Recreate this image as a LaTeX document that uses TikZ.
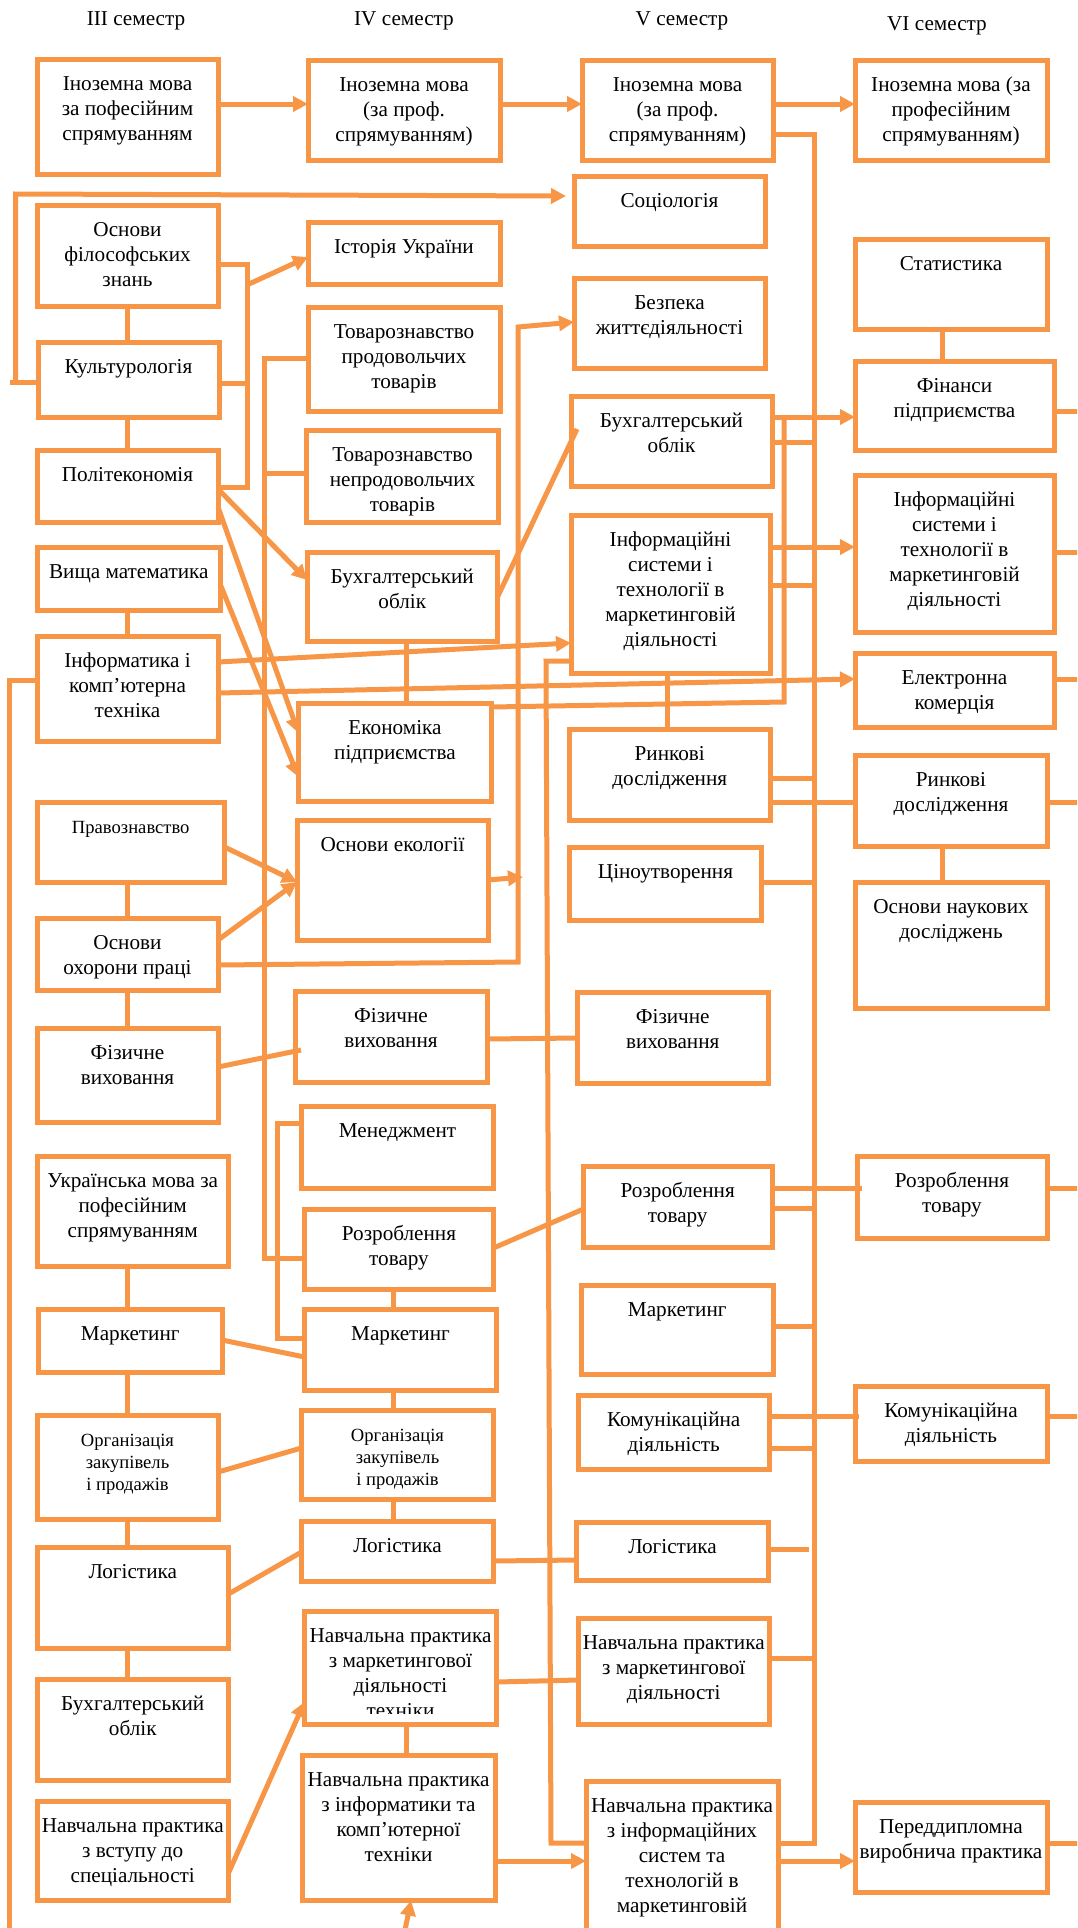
\documentclass[tikz,border=0pt]{standalone}
\usepackage{fontspec}
\setmainfont{Liberation Serif}
\usetikzlibrary{
  arrows.meta,
  calc}

\definecolor{boxcolor}{RGB}{247,150,70}

%% one picture unit is one pixel of the original scheme
\newlength{\pxu}
\setlength{\pxu}{0.5pt}
%% text of a course box, set at the top of the box
\newcommand{\ctext}[3]{%
  \begin{minipage}[t][#2\pxu][t]{#1\pxu}\centering
    \rule{0pt}{15.5pt}#3%
  \end{minipage}}
\newcommand{\smallfont}{\fontsize{9.3}{11}\selectfont}

\tikzset{
  %% course : a box with a discipline
  course/.style={
    rectangle,
    draw=boxcolor,
    line width=2.5pt,
    inner sep=0pt,
    outer sep=0pt,
    anchor=north west
  },
  %% semester : heading of a column
  semester/.style={
    anchor=center
  },
  %% link : plain connection
  link/.style={
    draw=boxcolor,
    line width=2.5pt
  },
  %% arrow : connection with a head
  arrow/.style={
    link,
    -{Triangle[length=7.5pt, width=7.5pt]}
  }
}

\begin{document}
\begin{tikzpicture}
  [x=0.5pt,
  y=-0.5pt,
  font=\fontsize{10.6}{12.5}\selectfont]

  \useasboundingbox (0,0) rectangle (1077,1928);
  \clip (0,0) rectangle (1077,1928);

  %% Headings
  \node (sem3) [semester] at (136,21) {III семестр};
  \node (sem4) [semester] at (404,21) {IV семестр};
  \node (sem5) [semester] at (682,21) {V семестр};
  \node (sem6) [semester] at (937,26) {VI семестр};

  %% III semester
  \node (inozIII) [course] at (37,59.5) {\ctext{181}{115}{%
    Іноземна мова\\за пофесійним\\спрямуванням}};
  \node (filos) [course] at (37,205) {\ctext{181}{101}{%
    Основи\\філософських\\знань}};
  \node (kultur) [course] at (38,342) {\ctext{181}{75}{%
    Культурологія}};
  \node (polit) [course] at (37,450) {\ctext{181}{72}{%
    Політекономія}};
  \node (vyshcha) [course] at (37,547) {\ctext{183.5}{63}{%
    Вища математика}};
  \node (inform) [course] at (37,636) {\ctext{181}{105}{%
    Інформатика і\\комп’ютерна\\техніка}};
  \node (pravo) [course] at (37,802) {\ctext{187.5}{80}{%
    \smallfont Правознавство}};
  \node (okhor) [course] at (37,918) {\ctext{181}{72}{%
    Основи\\охорони праці}};
  \node (fizIII) [course] at (37,1028) {\ctext{181}{94}{%
    Фізичне\\виховання}};
  \node (ukr) [course] at (37,1156) {\ctext{191.5}{110}{%
    Українська мова за\\пофесійним\\спрямуванням}};
  \node (marIII) [course] at (38.5,1309.5) {\ctext{183.5}{63}{%
    Маркетинг}};
  \node (orgIII) [course] at (37,1415) {\ctext{181}{104}{%
    \smallfont Організація\\закупівель\\і продажів}};
  \node (logIII) [course] at (37,1547.5) {\ctext{191.5}{101}{%
    Логістика}};
  \node (bukhIII) [course] at (37,1679.5) {\ctext{191.5}{101}{%
    Бухгалтерський\\облік}};
  \node (vstup) [course] at (37,1801.5) {\ctext{191.5}{99}{%
    Навчальна практика\\з вступу до\\спеціальності}};

  %% IV semester
  \node (inozIV) [course] at (308,60) {\ctext{192}{100}{%
    Іноземна мова\\(за проф.\\спрямуванням)}};
  \node (istor) [course] at (308,222) {\ctext{192}{62}{%
    Історія України}};
  \node (tovprod) [course] at (308,307) {\ctext{192}{104}{%
    Товарознавство\\продовольчих\\товарів}};
  \node (tovnep) [course] at (306.5,430) {\ctext{192}{92}{%
    Товарознавство\\непродовольчих\\товарів}};
  \node (bukhIV) [course] at (307,552) {\ctext{190.5}{89}{%
    Бухгалтерський\\облік}};
  \node (ekon) [course] at (298.5,703) {\ctext{193}{98}{%
    Економіка\\підприємства}};
  \node (ekol) [course] at (297,820) {\ctext{191}{120}{%
    Основи екології}};
  \node (fizIV) [course] at (295,991) {\ctext{192}{91}{%
    Фізичне\\виховання}};
  \node (menedzh) [course] at (301.5,1106) {\ctext{192}{82}{%
    Менеджмент}};
  \node (rozIV) [course] at (304.5,1209.5) {\ctext{189}{80}{%
    Розроблення\\товару}};
  \node (marIV) [course] at (304.5,1309.5) {\ctext{192}{81}{%
    Маркетинг}};
  \node (orgIV) [course] at (301.5,1410.5) {\ctext{192}{89}{%
    \smallfont Організація\\закупівель\\і продажів}};
  \node (logIV) [course] at (301.5,1521.5) {\ctext{192}{60}{%
    Логістика}};
  \node (praktmarIV) [course] at (304.5,1611.5) {\ctext{192}{113}{%
    Навчальна практика\\з маркетингової\\діяльності}};
  \begin{scope}
    \clip (304.5,1611.5) rectangle (496.5,1713);
    \node (praktmarIVt) [anchor=base] at (400.5,1717) {техніки};
  \end{scope}
  \node (praktinf) [course] at (302,1755.5) {\ctext{193}{145}{%
    Навчальна практика\\з інформатики та\\комп’ютерної\\техніки}};

  %% V semester
  \node (inozV) [course] at (582,60) {\ctext{191}{100}{%
    Іноземна мова\\(за проф.\\спрямуванням)}};
  \node (sotsio) [course] at (574,176) {\ctext{191}{70}{%
    Соціологія}};
  \node (bezpeka) [course] at (574,278) {\ctext{191}{90}{%
    Безпека\\життєдіяльності}};
  \node (bukhV) [course] at (571,396) {\ctext{201}{90}{%
    Бухгалтерський\\облік}};
  \node (infV) [course] at (571,515) {\ctext{199}{158}{%
    Інформаційні\\системи і\\технології в\\маркетинговій\\діяльності}};
  \node (rynV) [course] at (569.5,729) {\ctext{200.5}{91}{%
    Ринкові\\дослідження}};
  \node (tsino) [course] at (569.5,847.5) {\ctext{192}{73}{%
    Ціноутворення}};
  \node (fizV) [course] at (577,992) {\ctext{191.5}{91}{%
    Фізичне\\виховання}};
  \node (rozV) [course] at (583.5,1166.5) {\ctext{188.5}{81}{%
    Розроблення\\товару}};
  \node (marV) [course] at (581.5,1285.5) {\ctext{191.5}{89}{%
    Маркетинг}};
  \node (komV) [course] at (578,1395.5) {\ctext{191.5}{74}{%
    Комунікаційна\\діяльність}};
  \node (logV) [course] at (576.5,1522.5) {\ctext{192}{58}{%
    Логістика}};
  \node (praktmarV) [course] at (578,1618.5) {\ctext{191.5}{106}{%
    Навчальна практика\\з маркетингової\\діяльності}};
  \node (praktisV) [course] at (586,1781.5) {\ctext{192}{200}{%
    Навчальна практика\\з інформаційних\\систем та\\технологій в\\маркетинговій}};

  %% VI semester
  \node (inozVI) [course] at (855,60) {\ctext{192}{100}{%
    Іноземна мова (за\\професійним\\спрямуванням)}};
  \node (statyst) [course] at (855,239) {\ctext{192}{90}{%
    Статистика}};
  \node (finansy) [course] at (855,361) {\ctext{199}{89}{%
    Фінанси\\підприємства}};
  \node (infVI) [course] at (855,475) {\ctext{199}{157}{%
    Інформаційні\\системи і\\технології в\\маркетинговій\\діяльності}};
  \node (elkom) [course] at (855,653) {\ctext{199}{74}{%
    Електронна\\комерція}};
  \node (rynVI) [course] at (855,755) {\ctext{192}{91}{%
    Ринкові\\дослідження}};
  \node (osnnauk) [course] at (855,882) {\ctext{192}{126}{%
    Основи наукових\\досліджень}};
  \node (rozVI) [course] at (857,1156) {\ctext{190}{82}{%
    Розроблення\\товару}};
  \node (komVI) [course] at (855,1386) {\ctext{192}{75}{%
    Комунікаційна\\діяльність}};
  \node (peredd) [course] at (855,1802) {\ctext{192}{90}{%
    Переддипломна\\виробнича практика}};

  %% Bus lines
  \coordinate (sotsbus) at (15.5,0);
  \coordinate (infbus) at (9,0);
  \coordinate (istbus) at (247,0);
  \coordinate (tovbus) at (264,0);
  \coordinate (menbus) at (277,0);
  \coordinate (bezbus) at (518,0);
  \coordinate (praktbus) at (546,0);
  \coordinate (finbus) at (784,0);
  \coordinate (bus) at (814,0);
  \coordinate (edge) at (1085,0);

  %% Connections inside the columns
  \draw [link] (filos.south -| 127,0) -- (kultur.north -| 127,0);
  \draw [link] (kultur.south -| 127,0) -- (polit.north -| 127,0);
  \draw [link] (vyshcha.south -| 127,0) -- (inform.north -| 127,0);
  \draw [link] (pravo.south -| 127,0) -- (okhor.north -| 127,0);
  \draw [link] (okhor.south -| 127,0) -- (fizIII.north -| 127,0);
  \draw [link] (ukr.south -| 127,0) -- (marIII.north -| 127,0);
  \draw [link] (marIII.south -| 127,0) -- (orgIII.north -| 127,0);
  \draw [link] (orgIII.south -| 127,0) -- (logIII.north -| 127,0);
  \draw [link] (logIII.south -| 127,0) -- (bukhIII.north -| 127,0);
  \draw [link] (bukhIV.south -| 406,0) -- (ekon.north -| 406,0);
  \draw [link] (rozIV.south -| 393,0) -- (marIV.north -| 393,0);
  \draw [link] (marIV.south -| 393,0) -- (orgIV.north -| 393,0);
  \draw [link] (orgIV.south -| 393,0) -- (logIV.north -| 393,0);
  \draw [link] (praktmarIV.south -| 406,0) -- (praktinf.north -| 406,0);
  \draw [link] (infV.south -| 667,0) -- (rynV.north -| 667,0);
  \draw [link] (statyst.south -| 942,0) -- (finansy.north -| 942,0);
  \draw [link] (rynVI.south -| 942,0) -- (osnnauk.north -| 942,0);

  %% Foreign language
  \draw [arrow] (inozIII.east |- 0,104) -- (inozIV.west |- 0,104);
  \draw [arrow] (inozIV.east |- 0,104) -- (inozV.west |- 0,104);
  \draw [arrow] (inozV.east |- 0,104) -- (inozVI.west |- 0,104);

  %% Humanities
  \draw [link] (kultur.west |- 0,382) -- (10,382);
  \draw [arrow] (sotsbus |- 0,382) -- (sotsbus |- 0,194)
    -- (566,196);
  \draw [link] (filos.east |- 0,264) -- (istbus |- 0,264)
    -- (istbus |- 0,487) -- (polit.east |- 0,487);
  \draw [link] (kultur.east |- 0,383) -- (istbus |- 0,383);
  \draw [arrow] (249,284) -- (istor.west |- 0,257);

  %% Economics
  \draw [arrow] (polit.east |- 0,489) -- (bukhIV.west |- 0,580);
  \draw [arrow] (polit.east |- 0,507) -- (ekon.west |- 0,733);
  \draw [arrow] (vyshcha.east |- 0,585) -- (ekon.west |- 0,777);
  \draw [link] (bukhIV.east |- 0,597) -- (577,429);
  \draw [link] (ekon.east |- 0,707) -- (finbus |- 0,702)
    -- (finbus |- 0,417);

  %% Goods
  \draw [link] (tovprod.west |- 0,358) -- (tovbus |- 0,358)
    -- (tovbus |- 0,1258) -- (rozIV.west |- 0,1258);
  \draw [link] (tovnep.west |- 0,473) -- (tovbus |- 0,473);
  \draw [link] (menedzh.west |- 0,1123) -- (menbus |- 0,1123)
    -- (menbus |- 0,1338) -- (marIV.west |- 0,1338);

  %% Informatics
  \draw [arrow] (inform.east |- 0,662) -- (infV.west |- 0,643);
  \draw [arrow] (inform.east |- 0,693) -- (elkom.west |- 0,679);
  \draw [link] (inform.west |- 0,680) -- (infbus |- 0,680)
    -- (infbus |- 0,1935);

  %% Safety
  \draw [arrow] (pravo.east |- 0,847) -- (ekol.west |- 0,882);
  \draw [arrow] (okhor.east |- 0,940) -- (ekol.west |- 0,882);
  \draw [arrow] (ekol.east |- 0,880) -- (523,877);
  \draw [arrow] (okhor.east |- 0,965) -- (bezbus |- 0,962)
    -- (bezbus |- 0,327) -- (bezpeka.west |- 0,322);

  %% Physical training
  \draw [link] (fizIII.east |- 0,1067) -- (301,1050);
  \draw [link] (fizIV.east |- 0,1039) -- (fizV.west |- 0,1038);

  %% Marketing block
  \draw [link] (rozIV.east |- 0,1248) -- (rozV.west |- 0,1209);
  \draw [link] (rozV.east |- 0,1188) -- (862,1188);
  \draw [link] (marIII.east |- 0,1340) -- (marIV.west |- 0,1357);
  \draw [link] (orgIII.east |- 0,1472) -- (orgIV.west |- 0,1448);
  \draw [link] (logIII.east |- 0,1594) -- (logIV.west |- 0,1552);
  \draw [link] (logIV.east |- 0,1561) -- (logV.west |- 0,1560);

  %% Practice
  \draw [arrow] (vstup.east |- 0,1873) -- (praktmarIV.west |- 0,1702);
  \draw [link] (praktmarIV.east |- 0,1682) -- (praktmarV.west |- 0,1680);
  \draw [arrow] (praktinf.east |- 0,1861) -- (praktisV.west |- 0,1861);
  \draw [arrow] (404,1935) -- (praktinf.south -| 411,0);
  \draw [arrow] (praktisV.east |- 0,1861) -- (peredd.west |- 0,1861);
  \draw [link] (infV.west |- 0,661) -- (praktbus |- 0,661)
    -- (551,1843) -- (praktisV.west |- 0,1843);

  %% V to VI
  \draw [arrow] (bukhV.east |- 0,417) -- (finansy.west |- 0,417);
  \draw [arrow] (infV.east |- 0,547) -- (infVI.west |- 0,547);
  \draw [link] (rynV.east |- 0,802) -- (rynVI.west |- 0,802);
  \draw [link] (komV.east |- 0,1416) -- (859,1416);

  %% Common line of V semester
  \draw [link] (inozV.east |- 0,134) -- (bus |- 0,134)
    -- (bus |- 0,1843) -- (praktisV.east |- 0,1843);
  \draw [link] (bukhV.east |- 0,442) -- (bus |- 0,442);
  \draw [link] (infV.east |- 0,585) -- (bus |- 0,585);
  \draw [link] (rynV.east |- 0,778) -- (bus |- 0,778);
  \draw [link] (tsino.east |- 0,882) -- (bus |- 0,882);
  \draw [link] (rozV.east |- 0,1208) -- (bus |- 0,1208);
  \draw [link] (marV.east |- 0,1326) -- (bus |- 0,1326);
  \draw [link] (komV.east |- 0,1448) -- (bus |- 0,1448);
  \draw [link] (logV.east |- 0,1549) -- (809,1549);
  \draw [link] (praktmarV.east |- 0,1658) -- (bus |- 0,1658);

  %% Out of the picture
  \draw [link] (finansy.east |- 0,411) -- (edge |- 0,411);
  \draw [link] (infVI.east |- 0,552) -- (edge |- 0,552);
  \draw [link] (elkom.east |- 0,679) -- (edge |- 0,679);
  \draw [link] (rynVI.east |- 0,802) -- (edge |- 0,802);
  \draw [link] (rozVI.east |- 0,1188) -- (edge |- 0,1188);
  \draw [link] (komVI.east |- 0,1416) -- (edge |- 0,1416);
  \draw [link] (peredd.east |- 0,1843) -- (edge |- 0,1843);

\end{tikzpicture}
\end{document}
